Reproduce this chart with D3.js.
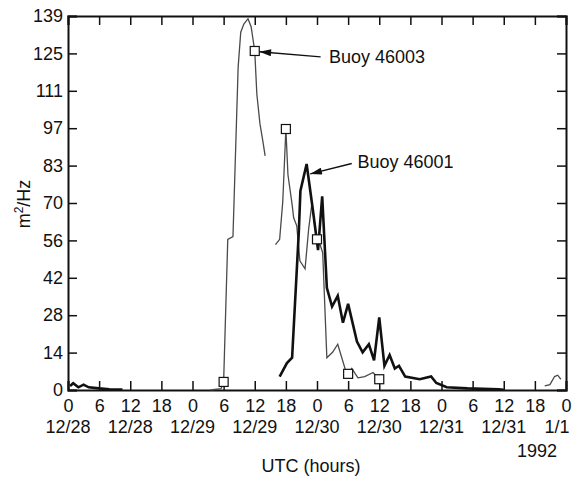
<!DOCTYPE html>
<html>
<head>
<meta charset="utf-8">
<script src="https://cdn.jsdelivr.net/npm/d3@7"></script>
<style>
  body { margin: 0; background: #fff; }
  svg text { font-family: "Liberation Sans", Arial, Helvetica, sans-serif; fill: #111; }
</style>
</head>
<body>
<div id="chart"></div>
<script>
// hours since 12/28 00 UTC, spectral density in m^2/Hz ; null = gap in the record
const buoy46003Hours = [27.5, 29.5, 30, 30.8, 31.8, 32.8, 33.3, 33.9, 34.7, 35.3, 36, 36.4, 37, 37.6, 38,
    null, 40, 40.8, 41.4, 42, 42.4, 43.2, 43.5, 44.1, 44.7, 45.7, 46.4, 47, 47.6, 48, 48.6, 49.1, 49.9,
    51, 52, 53.4, 54, 54.7, 55.9, 57.2, 58.8, 59.3, 60,
    null, 91.9, 92.9, 93.8, 94.4, 95];
const buoy46003Values = [0, 0.5, 3, 56, 57, 120, 133, 136, 138, 135, 126, 110, 99, 92, 87,
    null, 54, 56, 70, 97, 80, 69, 64, 61, 48, 45, 60, 69, 61, 55, 54, 51, 12,
    14, 17, 8, 6, 8, 4.5, 5, 6.5, 5.5, 4,
    null, 1.5, 2, 5, 5.5, 4];

const buoy46001Hours = [0.4, 1, 2, 3, 4, 6, 8, 10.5,
    null, 40.8, 42.2, 43.2, 44.5, 44.8, 46, 47.2, 48.2, 49, 49.9, 50.9, 52, 53, 54, 55.7, 56.8,
    58, 59, 60, 61, 62, 63, 63.8, 65, 67.8, 70, 71, 73, 77, 83, 84];
const buoy46001Values = [1.5, 2.5, 1, 2, 1, 0.6, 0.3, 0.2,
    null, 5, 10, 12, 59, 74, 84, 67, 52, 72, 38, 31, 35, 25, 32, 18, 14,
    17, 11, 27, 9, 13, 8, 9, 5, 4, 5, 2.6, 1, 0.6, 0.3, 0.1];

// open squares on buoy 46003 every 6 hours
const markerHours = [30, 36, 42, 48, 54, 60];
const markerValues = [3, 126, 97, 56, 6, 4];

const xTickHours = d3.range(0, 97, 6);
const xTickLabels = xTickHours.map(h => String(h % 24));
const dateHours = [0, 12, 24, 36, 48, 60, 72, 84];
const dateLabels = ["12/28", "12/28", "12/29", "12/29", "12/30", "12/30", "12/31", "12/31"];
const yTickValues = d3.range(0, 11).map(i => i * 13.9);
const yTickLabels = ["0", "14", "28", "42", "56", "70", "83", "97", "111", "125", "139"];

class SpectrumChart {

    constructor(parentElement) {
        this.parentElement = parentElement;
        this.initVis();
    }

    initVis() {
        let vis = this;

        vis.margin = { top: 16, right: 13, bottom: 94, left: 68 };
        vis.width = 579 - vis.margin.left - vis.margin.right;
        vis.height = 484 - vis.margin.top - vis.margin.bottom;

        vis.svg = d3.select("#" + vis.parentElement).append("svg")
            .attr("width", 579)
            .attr("height", 484);

        vis.svg.append("defs").append("marker")
            .attr("id", "head")
            .attr("viewBox", "0 0 10 6")
            .attr("refX", 10).attr("refY", 3)
            .attr("markerWidth", 13).attr("markerHeight", 7)
            .attr("markerUnits", "userSpaceOnUse")
            .attr("orient", "auto")
            .append("path").attr("d", "M0,0L10,3L0,6Z").attr("fill", "#111");

        vis.g = vis.svg.append("g")
            .attr("transform", `translate(${vis.margin.left},${vis.margin.top})`);

        vis.x = d3.scaleLinear().domain([0, 96]).range([0, vis.width]);
        vis.y = d3.scaleLinear().domain([0, 139]).range([vis.height, 0]);

        vis.drawAxes();
        vis.drawData();
        vis.drawLabels();
    }

    drawAxes() {
        let vis = this;
        const fs = "18px";

        let bottom = vis.g.append("g")
            .attr("transform", `translate(0,${vis.height})`)
            .call(d3.axisBottom(vis.x).tickValues(xTickHours).tickSize(-9).tickPadding(9)
                .tickFormat((d, i) => xTickLabels[i]));
        let top = vis.g.append("g")
            .call(d3.axisTop(vis.x).tickValues(xTickHours).tickSize(-9).tickFormat(""));
        let left = vis.g.append("g")
            .call(d3.axisLeft(vis.y).tickValues(yTickValues).tickSize(-9).tickPadding(5)
                .tickFormat((d, i) => yTickLabels[i]));
        let right = vis.g.append("g")
            .attr("transform", `translate(${vis.width},0)`)
            .call(d3.axisRight(vis.y).tickValues(yTickValues).tickSize(-9).tickFormat(""));

        [bottom, top, left, right].forEach(a => {
            a.select(".domain").attr("stroke", "#111").attr("stroke-width", 2);
            a.selectAll(".tick line").attr("stroke", "#111").attr("stroke-width", 1.5);
            a.selectAll(".tick text").attr("font-size", fs).attr("font-family", null).attr("fill", "#111");
        });

        // date row below the hour labels
        vis.g.selectAll(".date-label")
            .data(dateHours)
            .enter().append("text")
            .attr("class", "date-label")
            .attr("x", d => vis.x(d))
            .attr("y", vis.height + 43)
            .attr("text-anchor", "middle")
            .attr("font-size", fs)
            .text((d, i) => dateLabels[i]);

        vis.g.append("text")
            .attr("x", vis.x(96) - 9)
            .attr("y", vis.height + 43)
            .attr("text-anchor", "middle")
            .attr("font-size", fs)
            .text("1/1");

        vis.g.append("text")
            .attr("x", vis.x(96) - 29)
            .attr("y", vis.height + 67)
            .attr("text-anchor", "middle")
            .attr("font-size", fs)
            .text("1992");

        vis.g.append("text")
            .attr("x", vis.width / 2 - 6)
            .attr("y", vis.height + 82)
            .attr("text-anchor", "middle")
            .attr("font-size", fs)
            .text("UTC (hours)");

        let ylab = vis.svg.append("text")
            .attr("transform", "translate(30,204) rotate(-90)")
            .attr("text-anchor", "middle")
            .attr("font-size", fs);
        ylab.append("tspan").text("m");
        ylab.append("tspan").attr("font-size", "12px").attr("dy", -7).text("2");
        ylab.append("tspan").attr("dy", 7).text("/Hz");
    }

    drawData() {
        let vis = this;

        let line = d3.line()
            .defined(d => d[0] !== null)
            .x(d => vis.x(d[0]))
            .y(d => vis.y(d[1]));

        let data03 = buoy46003Hours.map((h, i) => [h, buoy46003Values[i]]);
        let data01 = buoy46001Hours.map((h, i) => [h, buoy46001Values[i]]);

        vis.g.append("path")
            .datum(data03)
            .attr("fill", "none")
            .attr("stroke", "#4a4a4a")
            .attr("stroke-width", 1.3)
            .attr("d", line);

        vis.g.append("path")
            .datum(data01)
            .attr("fill", "none")
            .attr("stroke", "#111")
            .attr("stroke-width", 2.6)
            .attr("stroke-linejoin", "miter")
            .attr("d", line);

        vis.g.selectAll(".marker")
            .data(markerHours)
            .enter().append("rect")
            .attr("class", "marker")
            .attr("x", d => vis.x(d) - 4.5)
            .attr("y", (d, i) => vis.y(markerValues[i]) - 4.5)
            .attr("width", 9)
            .attr("height", 9)
            .attr("fill", "#fff")
            .attr("stroke", "#111")
            .attr("stroke-width", 1.2);
    }

    drawLabels() {
        let vis = this;
        // arrows and names, placed in data units
        const notes = [
            { name: "Buoy 46003", from: [48.7, 123.8], to: [36.9, 125.7], text: [50.3, 121.6] },
            { name: "Buoy 46001", from: [54.7, 84.2], to: [46.7, 80.3], text: [55.8, 82.5] }
        ];

        notes.forEach(n => {
            vis.g.append("line")
                .attr("x1", vis.x(n.from[0])).attr("y1", vis.y(n.from[1]))
                .attr("x2", vis.x(n.to[0])).attr("y2", vis.y(n.to[1]))
                .attr("stroke", "#111")
                .attr("stroke-width", 1.4)
                .attr("marker-end", "url(#head)");

            vis.g.append("text")
                .attr("x", vis.x(n.text[0]))
                .attr("y", vis.y(n.text[1]))
                .attr("font-size", "18px")
                .text(n.name);
        });
    }
}

new SpectrumChart("chart");
</script>
</body>
</html>
